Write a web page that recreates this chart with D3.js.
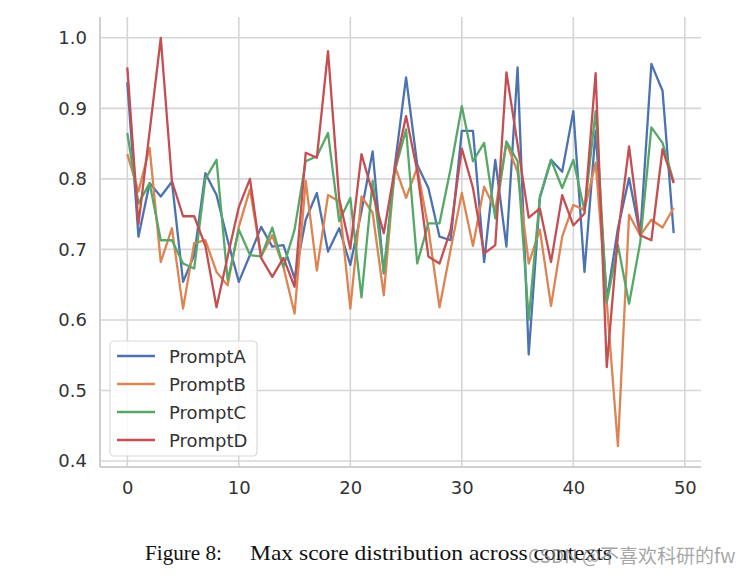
<!DOCTYPE html>
<html><head><meta charset="utf-8">
<script src="https://cdn.jsdelivr.net/npm/d3@7"></script>
<style>html,body{margin:0;padding:0;background:#fff;}svg{display:block;}</style>
</head><body>
<svg id="chart" width="754" height="575"></svg>
<script>
const contexts = d3.range(50);
const promptA = [0.937,0.718,0.794,0.775,0.796,0.654,0.692,0.808,0.777,0.713,
  0.654,0.692,0.732,0.704,0.706,0.659,0.742,0.780,0.697,0.730,
  0.678,0.754,0.839,0.666,0.820,0.944,0.820,0.787,0.718,0.713,
  0.868,0.868,0.682,0.827,0.704,0.958,0.551,0.773,0.827,0.810,
  0.896,0.668,0.868,0.628,0.730,0.801,0.720,0.963,0.925,0.723];
const promptB = [0.835,0.782,0.844,0.682,0.730,0.616,0.709,0.713,0.668,0.649,
  0.732,0.785,0.690,0.720,0.675,0.609,0.797,0.670,0.777,0.768,
  0.616,0.775,0.752,0.635,0.818,0.773,0.816,0.730,0.618,0.700,
  0.780,0.705,0.789,0.756,0.851,0.810,0.680,0.728,0.620,0.718,
  0.763,0.756,0.823,0.625,0.421,0.749,0.720,0.742,0.731,0.759];
const promptC = [0.865,0.765,0.794,0.713,0.713,0.680,0.673,0.800,0.827,0.656,
  0.728,0.692,0.690,0.731,0.675,0.728,0.825,0.832,0.865,0.740,
  0.773,0.632,0.797,0.668,0.812,0.870,0.680,0.737,0.737,0.815,
  0.903,0.825,0.851,0.744,0.853,0.825,0.600,0.775,0.827,0.787,
  0.827,0.755,0.896,0.625,0.706,0.623,0.710,0.873,0.851,0.796];
const promptD = [0.958,0.736,0.867,1.000,0.797,0.747,0.747,0.705,0.618,0.690,
  0.760,0.800,0.688,0.661,0.688,0.647,0.837,0.830,0.981,0.772,
  0.701,0.835,0.780,0.723,0.815,0.889,0.811,0.690,0.680,0.728,
  0.843,0.787,0.694,0.706,0.951,0.849,0.745,0.758,0.682,0.777,
  0.734,0.751,0.950,0.533,0.720,0.846,0.720,0.713,0.842,0.794];
const seriesNames = ["PromptA","PromptB","PromptC","PromptD"];
const seriesColors = ["#4C72B0","#DD8452","#55A868","#C44E52"];
const xTicks = [0,10,20,30,40,50];
const yTicks = [0.4,0.5,0.6,0.7,0.8,0.9,1.0];
const captionLabel = "Figure 8:";
const captionText = "Max score distribution across contexts";
const watermark = "CSDN @不喜欢科研的fw";

const series = [promptA,promptB,promptC,promptD];
const svg = d3.select("#chart");
const L = 100, R = 701, T = 17, B = 467;
const x = d3.scaleLinear().domain([-2.45, 51.45]).range([L, R]);
const y = d3.scaleLinear().domain([0.3915, 1.0295]).range([B, T]);
const gridColor = "#d6d6d6";
const textColor = "#333";

// grid
const g = svg.append("g");
g.selectAll(".vg").data(xTicks).join("line")
  .attr("x1", d => x(d)).attr("x2", d => x(d)).attr("y1", T).attr("y2", B)
  .attr("stroke", gridColor).attr("stroke-width", 1.6);
g.selectAll(".hg").data(yTicks).join("line")
  .attr("x1", L).attr("x2", R).attr("y1", d => y(d)).attr("y2", d => y(d))
  .attr("stroke", gridColor).attr("stroke-width", 1.6);

// spines (left, bottom)
svg.append("line").attr("x1", L).attr("x2", L).attr("y1", T).attr("y2", B)
  .attr("stroke", "#cfcfcf").attr("stroke-width", 2);
svg.append("line").attr("x1", L).attr("x2", R).attr("y1", B).attr("y2", B)
  .attr("stroke", "#cfcfcf").attr("stroke-width", 2);

// axes labels via d3 axes
const xAxis = d3.axisBottom(x).tickValues(xTicks).tickSize(0).tickPadding(14).tickFormat(d3.format("d"));
const yAxis = d3.axisLeft(y).tickValues(yTicks).tickSize(0).tickPadding(13).tickFormat(d3.format(".1f"));
const gx = svg.append("g").attr("transform", `translate(0,${B})`).call(xAxis);
const gy = svg.append("g").attr("transform", `translate(${L},0)`).call(yAxis);
[gx, gy].forEach(a => {
  a.select(".domain").remove();
  a.selectAll("text").attr("fill", textColor).style("font-family", "DejaVu Sans")
    .style("font-size", "18px");
});

// lines
const line = d3.line().x((d, i) => x(contexts[i])).y(d => y(d));
series.forEach((s, k) => {
  svg.append("path").datum(s).attr("d", line)
    .attr("fill", "none").attr("stroke", seriesColors[k]).attr("stroke-width", 2.3)
    .attr("stroke-linejoin", "round").attr("stroke-linecap", "butt");
});

// legend
const lg = svg.append("g");
lg.append("rect").attr("x", 110).attr("y", 341).attr("width", 147).attr("height", 115)
  .attr("rx", 4).attr("fill", "#fff").attr("fill-opacity", 0.85)
  .attr("stroke", "#d9d9d9").attr("stroke-width", 1.2);
seriesNames.forEach((n, k) => {
  const yy = 356 + k * 28;
  lg.append("line").attr("x1", 117).attr("x2", 155).attr("y1", yy).attr("y2", yy)
    .attr("stroke", seriesColors[k]).attr("stroke-width", 2.3);
  lg.append("text").attr("x", 169).attr("y", yy + 6.5).text(n)
    .attr("fill", textColor).style("font-family", "DejaVu Sans").style("font-size", "18px");
});

// caption
svg.append("text").attr("x", 145).attr("y", 560).text(captionLabel)
  .attr("fill", "#111").style("font-family", "Liberation Serif").style("font-size", "21.5px")
  .attr("textLength", 77).attr("lengthAdjust", "spacingAndGlyphs");
svg.append("text").attr("x", 250).attr("y", 560).text(captionText)
  .attr("fill", "#111").style("font-family", "Liberation Serif").style("font-size", "21.5px")
  .attr("textLength", 362).attr("lengthAdjust", "spacingAndGlyphs");
svg.append("text").attr("x", 528).attr("y", 563).text(watermark)
  .attr("fill", "#888").attr("fill-opacity", 0.75)
  .style("font-family", "Noto Sans CJK SC").style("font-size", "19px");
</script>
</body></html>
